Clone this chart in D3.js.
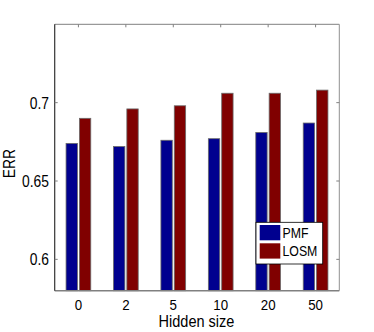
<!DOCTYPE html>
<html>
<head>
<meta charset="utf-8">
<script src="https://cdn.jsdelivr.net/npm/d3@7"></script>
<style>
  body { margin: 0; background: #fff; }
  text { font-family: "Liberation Sans", Arial, sans-serif; fill: #000; }
</style>
</head>
<body>
<div id="chart"></div>
<script>
var categories = ["0", "2", "5", "10", "20", "50"];
var seriesNames = ["PMF", "LOSM"];
var pmfValues = [0.674, 0.672, 0.676, 0.677, 0.681, 0.687];
var losmValues = [0.690, 0.696, 0.698, 0.706, 0.706, 0.708];
var yTicks = [0.6, 0.65, 0.7];
var yTickLabels = ["0.6", "0.65", "0.7"];
var colors = ["#00008f", "#800000"];

var width = 374, height = 332;
var margin = {left: 54.7, right: 34.7, top: 24.3, bottom: 41.3};

var svg = d3.select("#chart").append("svg")
    .attr("width", width)
    .attr("height", height);

var x0 = d3.scaleBand()
    .domain(categories)
    .range([margin.left, width - margin.right])
    .paddingInner(0.479)
    .paddingOuter(0.2395);

var x1 = d3.scaleBand()
    .domain(seriesNames)
    .range([0, x0.bandwidth()])
    .paddingInner(0.15);

var y = d3.scaleLinear()
    .domain([0.58, 0.75])
    .range([height - margin.bottom, margin.top]);

var rows = categories.map(function(c, i) {
    return {cat: c, vals: [pmfValues[i], losmValues[i]]};
});

// bars
var groups = svg.selectAll("g.grp")
    .data(rows)
    .enter().append("g")
    .attr("class", "grp")
    .attr("transform", function(d) { return "translate(" + x0(d.cat) + ",0)"; });

groups.selectAll("rect")
    .data(function(d) { return d.vals.map(function(v, j) { return {name: seriesNames[j], value: v, j: j}; }); })
    .enter().append("rect")
    .attr("x", function(d) { return x1(d.name); })
    .attr("y", function(d) { return y(d.value); })
    .attr("width", x1.bandwidth())
    .attr("height", function(d) { return y(0.58) - y(d.value); })
    .style("fill", function(d) { return colors[d.j]; })
    .style("stroke", "#6a6a6a")
    .style("stroke-width", 0.8);

// axes box
var xLeft = margin.left, xRight = width - margin.right;
var yTop = margin.top, yBot = height - margin.bottom;

svg.append("line").attr("x1", xLeft).attr("x2", xRight).attr("y1", yTop).attr("y2", yTop)
    .style("stroke", "#808080");
svg.append("line").attr("x1", xRight).attr("x2", xRight).attr("y1", yTop).attr("y2", yBot)
    .style("stroke", "#909090");
svg.append("line").attr("x1", xLeft).attr("x2", xRight).attr("y1", yBot).attr("y2", yBot)
    .style("stroke", "#808080").style("stroke-width", 1.5);
svg.append("line").attr("x1", xLeft).attr("x2", xLeft).attr("y1", yTop).attr("y2", yBot)
    .style("stroke", "#333").style("stroke-width", 1.2);

// top ticks (inward)
svg.selectAll("line.tt")
    .data(categories)
    .enter().append("line")
    .attr("class", "tt")
    .attr("x1", function(d) { return x0(d) + x0.bandwidth() / 2; })
    .attr("x2", function(d) { return x0(d) + x0.bandwidth() / 2; })
    .attr("y1", yTop).attr("y2", yTop + 3)
    .style("stroke", "#808080");

// y ticks left and right
yTicks.forEach(function(t) {
    svg.append("line").attr("x1", xLeft).attr("x2", xLeft + 3)
        .attr("y1", y(t)).attr("y2", y(t)).style("stroke", "#808080");
    svg.append("line").attr("x1", xRight - 3).attr("x2", xRight)
        .attr("y1", y(t)).attr("y2", y(t)).style("stroke", "#808080");
});

// y tick labels
yTicks.forEach(function(t, i) {
    svg.append("text")
        .attr("transform", "translate(49," + (y(t) + 6) + ") scale(0.84,1)")
        .attr("text-anchor", "end")
        .style("font-size", "16.5px")
        .text(yTickLabels[i]);
});

// x tick labels
categories.forEach(function(c) {
    svg.append("text")
        .attr("transform", "translate(" + (x0(c) + x0.bandwidth() / 2) + ",309.5) scale(0.86,1)")
        .attr("text-anchor", "middle")
        .style("font-size", "15.5px")
        .text(c);
});

// axis titles
svg.append("text")
    .attr("transform", "translate(196.5,327) scale(0.88,1)")
    .attr("text-anchor", "middle")
    .style("font-size", "16.5px")
    .text("Hidden size");

svg.append("text")
    .attr("transform", "translate(15.3,163.7) rotate(-90) scale(0.84,1)")
    .attr("text-anchor", "middle")
    .style("font-size", "16.5px")
    .text("ERR");

// legend
var legend = svg.append("g").attr("transform", "translate(256,222.3)");
legend.append("rect")
    .attr("width", 66.7).attr("height", 41.7)
    .style("fill", "#fff").style("stroke", "#000").style("stroke-width", 0.8);

seriesNames.forEach(function(name, i) {
    legend.append("rect")
        .attr("x", 3.7).attr("y", 2.7 + i * 18.3)
        .attr("width", 20.6).attr("height", 15.3)
        .style("fill", colors[i]);
    legend.append("text")
        .attr("transform", "translate(26.5," + (15.2 + i * 18.3) + ") scale(0.88,1)")
        .style("font-size", "14px")
        .text(name);
});
</script>
</body>
</html>
